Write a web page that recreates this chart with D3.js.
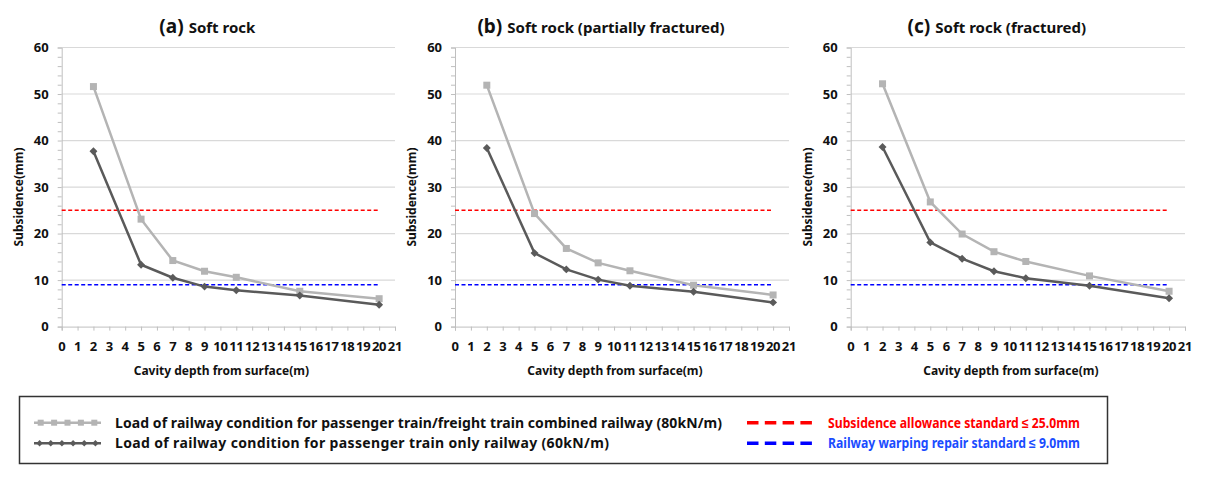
<!DOCTYPE html>
<html><head><meta charset="utf-8">
<script src="https://cdn.jsdelivr.net/npm/d3@7"></script>
<style>body{margin:0;background:#fff}svg{display:block}text{font-family:"Noto Sans",sans-serif}</style>
</head><body>
<svg id="c" width="1207" height="477"></svg>
<script>
const depths = [2, 5, 7, 9, 11, 15, 20];
const panelTags = ["(a)", "(b)", "(c)"];
const panelNames = ["Soft rock", "Soft rock (partially fractured)", "Soft rock (fractured)"];
const combined80 = [
  [51.6, 23.1, 14.2, 11.9, 10.6, 7.6, 6.0],
  [51.9, 24.3, 16.8, 13.7, 12.0, 8.9, 6.8],
  [52.2, 26.8, 19.9, 16.1, 14.0, 10.9, 7.6]
];
const passenger60 = [
  [37.7, 13.3, 10.5, 8.6, 7.8, 6.7, 4.7],
  [38.4, 15.8, 12.3, 10.1, 8.8, 7.5, 5.2],
  [38.6, 18.1, 14.6, 11.9, 10.4, 8.8, 6.1]
];
const allowance = 25.0;
const repair = 9.0;
const xTicks = d3.range(0, 22);
const yTicks = [0, 10, 20, 30, 40, 50, 60];
const yMinor = d3.range(0, 61, 2);
const legendSeries = [
  "Load of railway condition for passenger train/freight train combined railway (80kN/m)",
  "Load of railway condition for passenger train only railway (60kN/m)"
];
const legendStandards = [
  "Subsidence allowance standard \u2264 25.0mm",
  "Railway warping repair standard \u2264 9.0mm"
];

const svg = d3.select("#c");
const LIGHT = "#b4b4b4", DARK = "#5a5a5a", RED = "#ff0000", BLUE = "#0000ff";
const panelX = [[61.7, 395], [455, 789], [850.7, 1185]];
const yTop = 47.5, yBot = 326.6;

panelX.forEach((px, i) => {
  const g = svg.append("g");
  const x = d3.scaleLinear().domain([0, 21]).range(px);
  const y = d3.scaleLinear().domain([0, 60]).range([yBot, yTop]);
  g.selectAll(".grid").data(yTicks.filter(v => v > 0)).join("line")
    .attr("x1", px[0]).attr("x2", px[1]).attr("y1", d => y(d)).attr("y2", d => y(d))
    .attr("stroke", "#d9d9d9").attr("stroke-width", 1.2);
  const ya = d3.axisLeft(y).tickValues(yMinor).tickSize(4).tickFormat("");
  const yg = g.append("g").attr("transform", `translate(${px[0]},0)`).call(ya);
  yg.select(".domain").attr("stroke", "#bfbfbf");
  yg.selectAll(".tick line").attr("stroke", "#bfbfbf");
  g.selectAll(".ylab").data(yTicks).join("text")
    .attr("x", px[0] - 13).attr("y", d => y(d)).attr("dy", "0.36em")
    .attr("text-anchor", "end").attr("font-size", 13).attr("font-weight", "bold").attr("fill", "#111")
    .text(d => d);
  const xa = d3.axisBottom(x).tickValues(xTicks).tickSize(4).tickFormat("");
  const xg = g.append("g").attr("transform", `translate(0,${yBot})`).call(xa);
  xg.select(".domain").attr("stroke", "#bfbfbf");
  xg.selectAll(".tick line").attr("stroke", "#bfbfbf");
  g.selectAll(".xlab").data(xTicks).join("text")
    .attr("x", d => x(d)).attr("y", 350.5)
    .attr("text-anchor", "middle").attr("font-size", 13).attr("font-weight", "bold").attr("fill", "#111")
    .attr("letter-spacing", -0.3)
    .text(d => d);
  g.append("text").attr("x", (px[0] + px[1]) / 2 - 7).attr("y", 375)
    .attr("text-anchor", "middle").attr("font-size", 12).attr("font-weight", "bold").attr("fill", "#111")
    .text("Cavity depth from surface(m)");
  g.append("text").attr("transform", `translate(${px[0] - 39},197) rotate(-90)`)
    .attr("text-anchor", "middle").attr("font-size", 12).attr("font-weight", "bold").attr("fill", "#111")
    .text("Subsidence(mm)");
  const t = g.append("text").attr("x", (px[0] + px[1]) / 2 - 21).attr("y", 33)
    .attr("text-anchor", "middle").attr("font-weight", "bold").attr("fill", "#111");
  t.append("tspan").attr("font-size", 19).text(panelTags[i]);
  t.append("tspan").attr("font-size", 15).attr("dx", 5).text(panelNames[i]);
  [[allowance, RED], [repair, BLUE]].forEach(([v, c]) => {
    g.append("line").attr("x1", x(0)).attr("x2", x(20)).attr("y1", y(v)).attr("y2", y(v))
      .attr("stroke", c).attr("stroke-width", 1.5).attr("stroke-dasharray", "4,2.5");
  });
  const line = d3.line().x((d, k) => x(depths[k])).y(d => y(d));
  g.append("path").datum(combined80[i]).attr("d", line).attr("fill", "none")
    .attr("stroke", LIGHT).attr("stroke-width", 2.5);
  g.selectAll(".sq").data(combined80[i]).join("rect")
    .attr("x", (d, k) => x(depths[k]) - 3.5).attr("y", d => y(d) - 3.5)
    .attr("width", 7).attr("height", 7).attr("fill", LIGHT);
  g.append("path").datum(passenger60[i]).attr("d", line).attr("fill", "none")
    .attr("stroke", DARK).attr("stroke-width", 2.5);
  g.selectAll(".dm").data(passenger60[i]).join("path")
    .attr("d", d3.symbol(d3.symbolDiamond2, 40))
    .attr("transform", (d, k) => `translate(${x(depths[k])},${y(d)})`).attr("fill", DARK);
});

const lg = svg.append("g");
lg.append("rect").attr("x", 19.5).attr("y", 396.5).attr("width", 1088).attr("height", 67)
  .attr("fill", "#fff").attr("stroke", "#333").attr("stroke-width", 1.5);
const rowY = [422.7, 443.3];
const seriesWidths = [607, 494];
const sampleX = d3.scaleLinear().domain([0, 1]).range([34, 101]);
[[LIGHT, "sq", 5], [DARK, "dm", 6]].forEach(([c, m, n], r) => {
  lg.append("line").attr("x1", sampleX(0)).attr("x2", sampleX(1)).attr("y1", rowY[r]).attr("y2", rowY[r])
    .attr("stroke", c).attr("stroke-width", 2.5);
  const pts = d3.range(n).map(k => sampleX((k + 0.5) / n));
  if (m === "sq") {
    lg.selectAll(".lsq").data(pts).join("rect").attr("x", d => d - 3).attr("y", rowY[r] - 3)
      .attr("width", 6).attr("height", 6).attr("fill", c);
  } else {
    lg.selectAll(".ldm").data(pts).join("path").attr("d", d3.symbol(d3.symbolDiamond2, 26))
      .attr("transform", d => `translate(${d},${rowY[r]})`).attr("fill", c);
  }
  lg.append("text").attr("x", 115).attr("y", rowY[r]).attr("dy", "0.36em")
    .attr("font-size", 14).attr("font-weight", "bold").attr("fill", "#111")
    .attr("textLength", seriesWidths[r]).attr("lengthAdjust", "spacing")
    .text(legendSeries[r]);
});
[[RED, "#ff0000"], [BLUE, "#1a4cff"]].forEach(([c, tc], r) => {
  lg.append("line").attr("x1", 747).attr("x2", 812).attr("y1", rowY[r]).attr("y2", rowY[r])
    .attr("stroke", c).attr("stroke-width", 3.5).attr("stroke-dasharray", "11.5,6.3");
  lg.append("text").attr("x", 828).attr("y", rowY[r]).attr("dy", "0.36em")
    .attr("font-size", 14).attr("font-weight", "bold").attr("fill", tc)
    .attr("textLength", 252).attr("lengthAdjust", "spacingAndGlyphs")
    .text(legendStandards[r]);
});
</script>
</body></html>
